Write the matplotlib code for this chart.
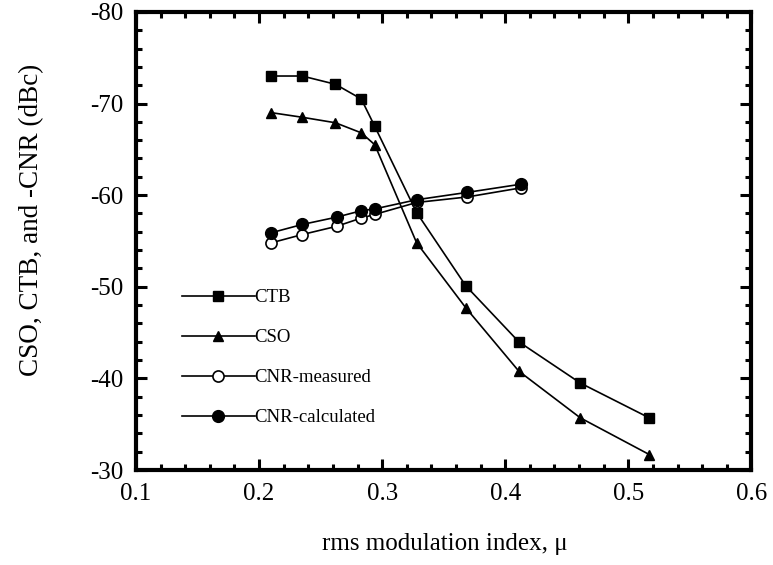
import matplotlib
matplotlib.use("Agg")
import matplotlib.pyplot as plt
from matplotlib.ticker import MultipleLocator

# Modulation index values (rms) for each series
mu_dist = [0.21, 0.235, 0.262, 0.283, 0.294, 0.328, 0.368, 0.411, 0.461, 0.517]
ctb = [-73.0, -73.0, -72.1, -70.5, -67.5, -58.1, -50.1, -44.0, -39.5, -35.7]
cso = [-69.0, -68.5, -67.9, -66.8, -65.5, -54.8, -47.7, -40.8, -35.7, -31.7]

mu_cnr = [0.21, 0.235, 0.263, 0.283, 0.294, 0.328, 0.369, 0.413]
cnr_measured = [-54.8, -55.7, -56.6, -57.5, -57.9, -59.2, -59.8, -60.8]
cnr_calculated = [-55.9, -56.8, -57.6, -58.3, -58.5, -59.5, -60.3, -61.2]

x_ticks = [0.1, 0.2, 0.3, 0.4, 0.5, 0.6]
y_ticks = [-80, -70, -60, -50, -40, -30]

plt.rcParams["font.family"] = ["Liberation Serif", "DejaVu Serif"]

fig = plt.figure(figsize=(7.73, 5.65), dpi=100)
ax = fig.add_axes([0.176, 0.168, 0.796, 0.811])

lw = 1.2
ax.plot(mu_dist, ctb, "-", color="black", lw=lw, marker="s", ms=7.5,
        mfc="black", mec="black", label="CTB")
ax.plot(mu_dist, cso, "-", color="black", lw=lw, marker="^", ms=7.5,
        mfc="black", mec="black", label="CSO")
ax.plot(mu_cnr, cnr_measured, "-", color="black", lw=lw, marker="o", ms=8,
        mfc="white", mec="black", mew=1.2, label="CNR-measured")
ax.plot(mu_cnr, cnr_calculated, "-", color="black", lw=lw, marker="o", ms=8.5,
        mfc="black", mec="black", label="CNR-calculated")

ax.set_xlim(0.1, 0.6)
ax.set_ylim(-30, -80)
ax.set_xticks(x_ticks)
ax.set_yticks(y_ticks)
ax.set_xticklabels([f"{v:.1f}" for v in x_ticks])
ax.set_yticklabels([str(v) for v in y_ticks])
ax.xaxis.set_minor_locator(MultipleLocator(0.02))
ax.yaxis.set_minor_locator(MultipleLocator(2))

ax.tick_params(which="both", direction="in", top=True, right=True,
               width=2.2, colors="black", labelsize=18)
ax.tick_params(which="major", length=8, pad=9)
ax.tick_params(which="minor", length=4.5)
for s in ax.spines.values():
    s.set_linewidth(3)
    s.set_color("black")

ax.set_xlabel("rms modulation index, \u03bc", fontsize=18)
ax.set_ylabel("CSO, CTB, and -CNR (dBc)", fontsize=19.5)
ax.xaxis.set_label_coords(0.502, -0.138)
ax.yaxis.set_label_coords(-0.15, 0.545)

leg = ax.legend(loc="upper left", bbox_to_anchor=(0.074, 0.395), frameon=False,
                fontsize=13.5, handlelength=3.9, handletextpad=0.0,
                labelspacing=1.22, borderpad=0, borderaxespad=0)

fig.savefig("out.png", dpi=100, facecolor="white")
